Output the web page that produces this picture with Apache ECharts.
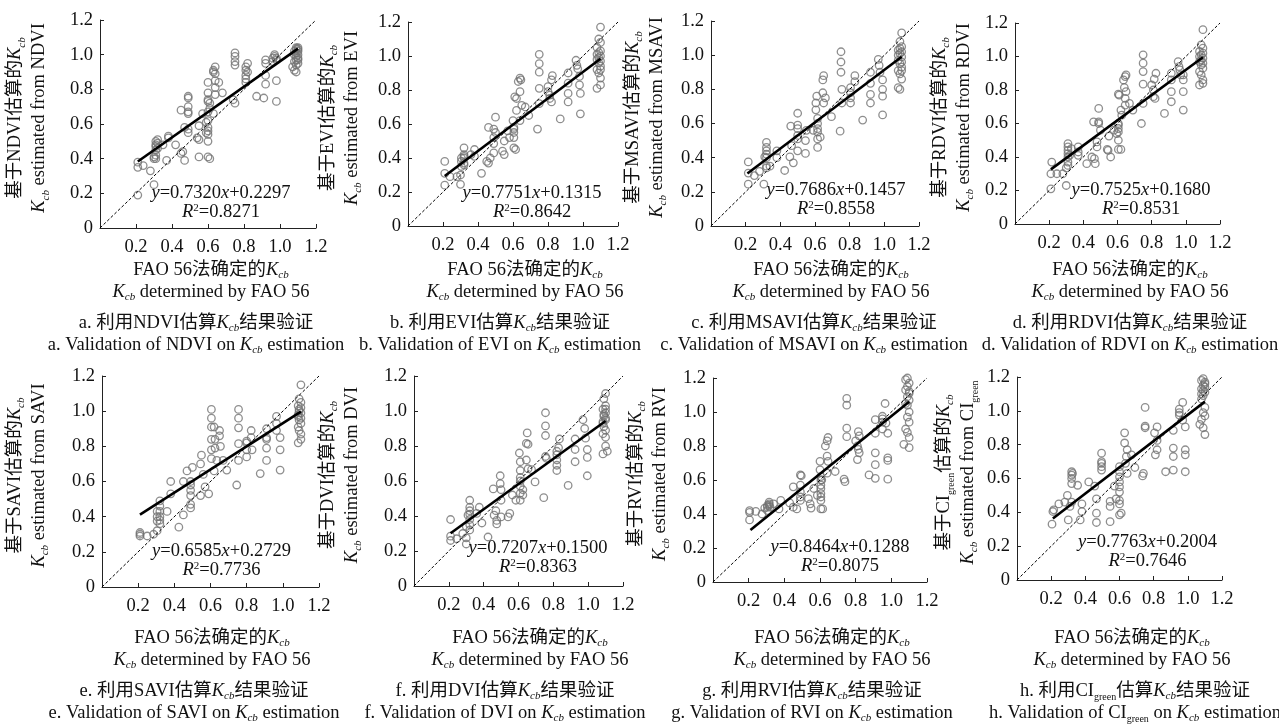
<!DOCTYPE html>
<html><head><meta charset="utf-8">
<script src="https://cdn.jsdelivr.net/npm/echarts@6/dist/echarts.min.js"></script>
<style>html,body{margin:0;padding:0;background:#fff}#c{width:1279px;height:724px}</style>
</head><body><div id="c"></div>
<script>
// ---------------- data ----------------
const PANEL_LETTERS = ['a','b','c','d','e','f','g','h'];
const INDEX_NAMES = ['NDVI','EVI','MSAVI','RDVI','SAVI','DVI','RVI','CIgreen'];
const AXIS_TICKS = [0, 0.2, 0.4, 0.6, 0.8, 1.0, 1.2];
const SLOPES = [0.7320, 0.7751, 0.7686, 0.7525, 0.6585, 0.7207, 0.8464, 0.7763];
const INTERCEPTS = [0.2297, 0.1315, 0.1457, 0.1680, 0.2729, 0.1500, 0.1288, 0.2004];
const R2 = [0.8271, 0.8642, 0.8558, 0.8531, 0.7736, 0.8363, 0.8075, 0.7646];
const FIT_RANGE = [0.21, 1.10];

const ndviPts = [[0.21,0.19],[0.21,0.35],[0.21,0.38],[0.24,0.36],[0.28,0.33],[0.30,0.25],[0.30,0.40],[0.30,0.41],[0.31,0.42],[0.31,0.45],[0.31,0.47],[0.31,0.48],[0.31,0.50],[0.31,0.40],[0.32,0.46],[0.32,0.49],[0.32,0.51],[0.35,0.48],[0.37,0.39],[0.38,0.52],[0.38,0.53],[0.42,0.48],[0.45,0.43],[0.45,0.68],[0.46,0.44],[0.47,0.39],[0.47,0.58],[0.49,0.55],[0.49,0.57],[0.49,0.66],[0.49,0.67],[0.49,0.70],[0.49,0.76],[0.49,0.75],[0.54,0.52],[0.55,0.41],[0.55,0.59],[0.55,0.51],[0.57,0.66],[0.59,0.61],[0.59,0.55],[0.60,0.41],[0.60,0.50],[0.60,0.54],[0.60,0.56],[0.60,0.58],[0.60,0.62],[0.60,0.67],[0.60,0.73],[0.60,0.74],[0.60,0.78],[0.60,0.84],[0.61,0.40],[0.61,0.69],[0.61,0.72],[0.63,0.90],[0.63,0.91],[0.63,0.66],[0.64,0.93],[0.64,0.89],[0.64,0.85],[0.64,0.81],[0.64,0.77],[0.66,0.84],[0.68,0.78],[0.74,0.74],[0.75,0.72],[0.75,0.94],[0.75,0.96],[0.75,0.99],[0.75,1.01],[0.81,0.84],[0.81,0.86],[0.81,0.88],[0.81,0.91],[0.81,0.93],[0.82,0.90],[0.82,0.95],[0.87,0.76],[0.91,0.75],[0.92,0.83],[0.92,0.88],[0.92,0.95],[0.92,0.97],[0.96,0.96],[0.96,0.98],[0.97,0.99],[0.97,1.00],[0.98,0.97],[0.98,0.85],[0.98,0.73],[0.98,0.98],[1.07,0.93],[1.08,0.91],[1.08,0.96],[1.08,1.00],[1.08,1.02],[1.09,0.90],[1.09,0.94],[1.09,0.97],[1.09,0.99],[1.09,1.01],[1.09,1.03],[1.09,1.04],[1.10,0.95],[1.10,0.98],[1.10,1.00],[1.10,1.02],[1.10,1.03],[1.10,1.04],[1.10,0.97]];
const eviPts = [[0.21,0.24],[0.21,0.31],[0.21,0.38],[0.24,0.29],[0.28,0.29],[0.30,0.30],[0.30,0.245],[0.305,0.35],[0.305,0.38],[0.305,0.40],[0.32,0.37],[0.32,0.40],[0.32,0.42],[0.32,0.46],[0.32,0.41],[0.32,0.36],[0.36,0.42],[0.38,0.45],[0.38,0.41],[0.42,0.31],[0.45,0.38],[0.46,0.37],[0.47,0.40],[0.46,0.58],[0.50,0.64],[0.49,0.57],[0.50,0.55],[0.49,0.485],[0.49,0.43],[0.49,0.52],[0.54,0.44],[0.55,0.42],[0.55,0.50],[0.57,0.56],[0.58,0.52],[0.60,0.62],[0.605,0.58],[0.605,0.57],[0.605,0.55],[0.605,0.52],[0.605,0.46],[0.615,0.45],[0.61,0.76],[0.62,0.75],[0.62,0.68],[0.63,0.85],[0.64,0.87],[0.645,0.86],[0.64,0.79],[0.65,0.71],[0.64,0.62],[0.67,0.70],[0.69,0.65],[0.74,0.57],[0.75,1.01],[0.75,0.955],[0.75,0.905],[0.75,0.81],[0.75,0.72],[0.80,0.82],[0.80,0.79],[0.81,0.77],[0.81,0.75],[0.82,0.73],[0.825,0.885],[0.82,0.86],[0.87,0.63],[0.915,0.90],[0.915,0.84],[0.915,0.78],[0.915,0.73],[0.96,0.975],[0.965,0.945],[0.97,0.925],[0.98,0.88],[0.98,0.83],[0.985,0.78],[0.985,0.66],[1.10,1.17],[1.09,1.10],[1.10,1.08],[1.08,1.05],[1.09,1.02],[1.10,1.00],[1.08,0.98],[1.09,0.96],[1.10,0.94],[1.08,0.92],[1.09,0.90],[1.10,0.87],[1.10,0.83],[1.08,0.81],[1.10,1.03],[1.08,1.01],[1.10,0.97],[1.09,0.99],[1.10,0.92]];
const msaviPts = [[0.215,0.375],[0.215,0.31],[0.215,0.245],[0.25,0.295],[0.28,0.32],[0.305,0.245],[0.31,0.405],[0.32,0.49],[0.32,0.46],[0.32,0.44],[0.32,0.42],[0.32,0.40],[0.32,0.35],[0.32,0.34],[0.34,0.35],[0.38,0.40],[0.38,0.44],[0.425,0.325],[0.455,0.405],[0.465,0.47],[0.475,0.37],[0.46,0.585],[0.50,0.66],[0.50,0.59],[0.50,0.57],[0.50,0.53],[0.50,0.51],[0.50,0.44],[0.545,0.50],[0.545,0.425],[0.55,0.56],[0.59,0.56],[0.605,0.68],[0.61,0.76],[0.605,0.72],[0.615,0.63],[0.615,0.60],[0.615,0.57],[0.615,0.55],[0.615,0.51],[0.615,0.46],[0.63,0.52],[0.645,0.855],[0.65,0.88],[0.645,0.78],[0.65,0.72],[0.66,0.75],[0.695,0.64],[0.745,0.555],[0.75,1.02],[0.75,0.96],[0.75,0.90],[0.755,0.80],[0.755,0.72],[0.805,0.81],[0.805,0.78],[0.805,0.75],[0.805,0.72],[0.83,0.88],[0.83,0.845],[0.875,0.62],[0.92,0.90],[0.92,0.835],[0.92,0.77],[0.92,0.72],[0.965,0.975],[0.97,0.94],[0.975,0.90],[0.99,0.855],[0.99,0.80],[0.99,0.76],[0.99,0.65],[1.10,1.13],[1.09,1.08],[1.10,1.05],[1.08,1.03],[1.09,1.01],[1.10,0.99],[1.08,0.97],[1.09,0.95],[1.10,0.93],[1.08,0.91],[1.09,0.89],[1.10,0.86],[1.08,0.81],[1.09,0.80],[1.10,1.02],[1.08,1.00],[1.10,0.96],[1.09,1.04],[1.10,0.91]];
const rdviPts = [[0.215,0.37],[0.21,0.30],[0.21,0.21],[0.245,0.30],[0.28,0.30],[0.30,0.335],[0.30,0.23],[0.31,0.35],[0.31,0.37],[0.31,0.40],[0.31,0.42],[0.31,0.44],[0.31,0.46],[0.31,0.48],[0.32,0.41],[0.33,0.45],[0.37,0.46],[0.37,0.43],[0.37,0.41],[0.42,0.36],[0.45,0.40],[0.465,0.39],[0.47,0.36],[0.46,0.61],[0.49,0.69],[0.49,0.61],[0.49,0.60],[0.48,0.49],[0.48,0.46],[0.50,0.56],[0.55,0.525],[0.54,0.445],[0.545,0.44],[0.56,0.40],[0.58,0.56],[0.595,0.54],[0.605,0.775],[0.61,0.77],[0.605,0.60],[0.605,0.59],[0.605,0.57],[0.605,0.55],[0.605,0.50],[0.605,0.445],[0.62,0.445],[0.62,0.68],[0.625,0.65],[0.635,0.86],[0.645,0.88],[0.65,0.89],[0.64,0.815],[0.65,0.79],[0.645,0.75],[0.645,0.71],[0.67,0.72],[0.69,0.68],[0.74,0.60],[0.75,0.72],[0.75,1.01],[0.75,0.96],[0.75,0.91],[0.75,0.835],[0.80,0.83],[0.81,0.80],[0.81,0.76],[0.82,0.75],[0.825,0.90],[0.815,0.865],[0.875,0.66],[0.915,0.90],[0.915,0.86],[0.915,0.79],[0.915,0.73],[0.955,0.97],[0.96,0.94],[0.965,0.92],[0.97,0.89],[0.985,0.89],[0.985,0.86],[0.985,0.79],[0.985,0.68],[1.10,1.16],[1.09,1.07],[1.10,1.05],[1.08,1.03],[1.09,1.01],[1.10,0.99],[1.08,0.97],[1.09,0.95],[1.10,0.93],[1.08,0.91],[1.09,0.89],[1.10,0.86],[1.08,0.83],[1.10,0.84],[1.10,1.02],[1.08,1.00],[1.09,0.98],[1.10,0.96]];
const saviPts = [[0.21,0.31],[0.21,0.30],[0.21,0.29],[0.25,0.29],[0.285,0.30],[0.305,0.32],[0.305,0.43],[0.305,0.40],[0.305,0.375],[0.32,0.49],[0.32,0.46],[0.32,0.43],[0.32,0.40],[0.32,0.38],[0.32,0.36],[0.36,0.43],[0.38,0.60],[0.38,0.53],[0.425,0.34],[0.45,0.41],[0.45,0.60],[0.47,0.66],[0.50,0.68],[0.49,0.60],[0.49,0.58],[0.49,0.55],[0.49,0.52],[0.49,0.47],[0.49,0.45],[0.545,0.52],[0.55,0.75],[0.545,0.70],[0.57,0.57],[0.59,0.53],[0.56,0.64],[0.605,1.01],[0.605,0.96],[0.605,0.91],[0.605,0.84],[0.605,0.78],[0.605,0.73],[0.62,0.91],[0.625,0.84],[0.625,0.79],[0.62,0.66],[0.635,0.72],[0.65,0.89],[0.65,0.86],[0.655,0.80],[0.69,0.665],[0.67,0.72],[0.745,0.58],[0.755,1.01],[0.755,0.96],[0.755,0.905],[0.755,0.815],[0.755,0.72],[0.80,0.83],[0.80,0.82],[0.80,0.78],[0.80,0.74],[0.825,0.89],[0.825,0.85],[0.83,0.78],[0.875,0.645],[0.91,0.90],[0.91,0.85],[0.91,0.84],[0.91,0.79],[0.91,0.72],[0.965,0.97],[0.965,0.93],[0.965,0.89],[0.985,0.85],[0.985,0.78],[0.985,0.665],[1.10,1.15],[1.09,1.07],[1.10,1.05],[1.085,1.03],[1.09,1.01],[1.10,0.99],[1.085,0.97],[1.09,0.95],[1.10,0.93],[1.085,0.91],[1.09,0.89],[1.10,0.87],[1.10,0.84],[1.085,0.82],[1.10,1.02],[1.09,1.00],[1.10,0.96],[1.085,0.98]];
const dviPts = [[0.21,0.38],[0.21,0.285],[0.21,0.26],[0.245,0.27],[0.28,0.30],[0.30,0.275],[0.30,0.24],[0.30,0.34],[0.31,0.405],[0.32,0.49],[0.32,0.45],[0.32,0.43],[0.32,0.41],[0.32,0.38],[0.32,0.35],[0.32,0.32],[0.375,0.45],[0.39,0.36],[0.36,0.415],[0.425,0.28],[0.455,0.555],[0.46,0.405],[0.47,0.43],[0.475,0.375],[0.475,0.355],[0.495,0.63],[0.495,0.585],[0.50,0.55],[0.50,0.49],[0.50,0.395],[0.54,0.395],[0.55,0.415],[0.565,0.52],[0.585,0.49],[0.605,0.76],[0.61,0.71],[0.61,0.66],[0.61,0.62],[0.61,0.60],[0.61,0.57],[0.61,0.53],[0.61,0.49],[0.625,0.55],[0.625,0.52],[0.645,0.815],[0.65,0.875],[0.655,0.81],[0.645,0.72],[0.655,0.67],[0.675,0.665],[0.695,0.595],[0.745,0.505],[0.755,0.99],[0.755,0.915],[0.755,0.86],[0.755,0.74],[0.76,0.73],[0.82,0.77],[0.82,0.75],[0.82,0.72],[0.82,0.69],[0.82,0.66],[0.835,0.84],[0.83,0.79],[0.885,0.575],[0.925,0.84],[0.925,0.78],[0.925,0.71],[0.97,0.95],[0.98,0.90],[0.985,0.845],[0.995,0.78],[0.995,0.735],[0.995,0.63],[1.10,1.10],[1.09,1.07],[1.10,1.03],[1.085,1.01],[1.10,0.99],[1.09,0.97],[1.10,0.95],[1.085,0.93],[1.09,0.91],[1.10,0.89],[1.085,0.87],[1.10,0.85],[1.10,0.80],[1.11,0.77],[1.085,0.755],[1.10,1.01],[1.09,0.98],[1.10,0.96],[1.085,0.94]];
const rviPts = [[0.205,0.42],[0.205,0.41],[0.205,0.365],[0.24,0.415],[0.275,0.40],[0.29,0.435],[0.305,0.45],[0.305,0.44],[0.305,0.42],[0.315,0.47],[0.315,0.46],[0.315,0.45],[0.32,0.44],[0.34,0.46],[0.38,0.48],[0.37,0.43],[0.43,0.465],[0.45,0.44],[0.47,0.43],[0.45,0.56],[0.49,0.63],[0.495,0.625],[0.49,0.57],[0.49,0.53],[0.49,0.50],[0.49,0.48],[0.535,0.49],[0.545,0.46],[0.55,0.435],[0.565,0.55],[0.585,0.51],[0.60,0.71],[0.60,0.66],[0.605,0.62],[0.605,0.60],[0.605,0.57],[0.605,0.55],[0.605,0.52],[0.605,0.50],[0.605,0.48],[0.605,0.43],[0.615,0.43],[0.61,0.60],[0.63,0.80],[0.64,0.83],[0.645,0.85],[0.64,0.74],[0.645,0.71],[0.64,0.64],[0.685,0.65],[0.735,0.605],[0.74,0.59],[0.75,1.08],[0.75,1.04],[0.75,0.905],[0.75,0.855],[0.80,0.83],[0.81,0.72],[0.81,0.80],[0.815,0.78],[0.82,0.76],[0.815,0.885],[0.82,0.86],[0.875,0.63],[0.91,0.955],[0.91,0.875],[0.91,0.76],[0.91,0.69],[0.91,0.61],[0.95,0.975],[0.95,0.96],[0.95,0.94],[0.95,0.90],[0.965,1.05],[0.97,0.935],[0.98,0.875],[0.98,0.73],[0.98,0.715],[0.98,0.605],[1.09,1.20],[1.08,1.19],[1.10,1.17],[1.09,1.15],[1.08,1.13],[1.10,1.11],[1.09,1.09],[1.10,1.07],[1.08,1.05],[1.10,1.00],[1.09,0.97],[1.10,0.94],[1.08,0.90],[1.09,0.88],[1.10,0.85],[1.07,0.81],[1.10,0.79],[1.10,1.12],[1.09,1.04]];
const cigPts = [[0.205,0.33],[0.21,0.405],[0.215,0.415],[0.245,0.45],[0.28,0.46],[0.295,0.50],[0.30,0.355],[0.31,0.435],[0.32,0.64],[0.32,0.62],[0.32,0.60],[0.32,0.57],[0.32,0.46],[0.325,0.63],[0.355,0.56],[0.37,0.355],[0.38,0.405],[0.38,0.45],[0.42,0.58],[0.455,0.555],[0.465,0.34],[0.465,0.395],[0.465,0.48],[0.495,0.75],[0.495,0.70],[0.495,0.69],[0.495,0.67],[0.495,0.65],[0.545,0.345],[0.545,0.435],[0.545,0.465],[0.57,0.555],[0.58,0.48],[0.60,0.67],[0.60,0.64],[0.60,0.61],[0.60,0.58],[0.60,0.55],[0.60,0.52],[0.60,0.47],[0.60,0.45],[0.60,0.385],[0.61,0.395],[0.63,0.87],[0.63,0.81],[0.645,0.77],[0.64,0.73],[0.645,0.63],[0.635,0.69],[0.67,0.74],[0.69,0.665],[0.735,0.615],[0.74,0.63],[0.75,1.02],[0.75,0.90],[0.75,0.91],[0.805,0.87],[0.82,0.825],[0.82,0.77],[0.81,0.74],[0.82,0.905],[0.87,0.64],[0.915,0.885],[0.915,0.78],[0.915,0.73],[0.915,0.65],[0.95,1.01],[0.95,0.99],[0.95,0.975],[0.97,1.05],[0.97,0.945],[0.985,0.905],[0.985,0.77],[0.985,0.74],[0.985,0.64],[1.09,1.19],[1.08,1.18],[1.10,1.17],[1.09,1.15],[1.08,1.13],[1.10,1.11],[1.09,1.09],[1.08,1.07],[1.10,1.02],[1.09,0.99],[1.10,0.97],[1.08,0.95],[1.07,0.92],[1.09,0.90],[1.10,0.86],[1.10,1.16],[1.09,1.12],[1.08,1.10],[1.10,1.14]];
const PANEL_POINTS = [ndviPts, eviPts, msaviPts, rdviPts, saviPts, dviPts, rviPts, cigPts];

// ---------------- layout ----------------
const GRIDS = [[100,20,216,208],[408,22,210,204],[711,21,208,205],[1015,23,205,201],
               [102,376,217,211],[414,376,209,210],[713,378,214,204],[1017,377,205,203]];
const EQ_POS = [[0.672,0.147],[0.709,0.135],[0.721,0.152],[0.738,0.146],[0.661,0.151],[0.712,0.163],[0.712,0.15],[0.764,0.166]];
const YTITLE_X = [27.5, 340, 645, 952, 27, 340, 648, 956];
const XTITLE_CX = [211, 525, 831, 1130, 212, 530, 832, 1132];
const CAPTION_CX = [196, 500, 814, 1130, 194, 505, 812, 1135];

const SERIF = "'Liberation Serif','Times New Roman','Noto Sans CJK SC',serif";
const TXT = '#111';
const AX = '#222';
function richFor(fs){
  const F = {fontFamily: SERIF, fill: TXT, color: TXT};
  const s = Math.round(fs * 0.61);
  return {
    i:   {...F, fontSize: fs, fontStyle: 'italic'},
    sub: {...F, fontSize: s, fontStyle: 'italic', verticalAlign: 'bottom', lineHeight: 8},
    sup: {...F, fontSize: s, verticalAlign: 'top', lineHeight: 12},
    g:   {...F, fontSize: s - 1, verticalAlign: 'bottom', lineHeight: 6}
  };
}
const KCB = '{i|K}{sub|cb}';
function idxTxt(name){ return name === 'CIgreen' ? 'CI{g|green}' : name; }

function txt(x, y, text, lh, rot, fs){
  fs = fs || 18;
  return {type:'text', x, y, rotation: rot || 0, silent: true, z: 100,
    style: {text, fontSize: fs, fontFamily: SERIF, fill: TXT, align: 'center', verticalAlign: 'middle',
            lineHeight: lh || 22, rich: richFor(fs)}};
}

const graphic = [];
const series = [];
GRIDS.forEach((g, i) => {
  const top = i < 4;
  const nm = idxTxt(INDEX_NAMES[i]);
  const L = PANEL_LETTERS[i];
  graphic.push(txt(YTITLE_X[i], g[1] + g[3]/2 - 6,
    '基于' + nm + '估算的' + KCB + '\n' + KCB + ' estimated from ' + nm, 24, Math.PI/2, 18.5));
  graphic.push(txt(XTITLE_CX[i], top ? 281 : 649,
    'FAO 56法确定的' + KCB + '\n' + KCB + ' determined by FAO 56', 22, 0, 18.5));
  graphic.push(txt(CAPTION_CX[i], top ? 323 : 691, L + '. 利用' + nm + '估算' + KCB + '结果验证', 22, 0, 18.5));
  graphic.push(txt(CAPTION_CX[i], top ? 345 : 713, L + '. Validation of ' + nm + ' on ' + KCB + ' estimation', 22, 0, 18.5));

  series.push({type:'scatter', xAxisIndex:i, yAxisIndex:i, data: PANEL_POINTS[i], symbol:'circle', symbolSize: 7.5,
    itemStyle:{color:'rgba(255,255,255,0)', borderColor:'#727272', borderWidth:1.3}, z: 2, silent: true});
  series.push({type:'line', xAxisIndex:i, yAxisIndex:i, data: [[AXIS_TICKS[0],AXIS_TICKS[0]],[AXIS_TICKS[6],AXIS_TICKS[6]]],
    symbol:'none', lineStyle:{color:'#000', width:1, type:[3,2]}, z: 3, silent: true});
  series.push({type:'line', xAxisIndex:i, yAxisIndex:i,
    data: FIT_RANGE.map(x => [x, SLOPES[i]*x + INTERCEPTS[i]]),
    symbol:'none', lineStyle:{color:'#000', width:2.6}, z: 4, silent: true});
});

const axisCommon = {type:'value', min: AXIS_TICKS[0], max: AXIS_TICKS[6], interval: 0.2,
  splitLine:{show:false},
  axisLine:{show:true, onZero:false, lineStyle:{color:AX, width:1}},
  axisTick:{show:true, inside:true, length:4, lineStyle:{color:AX, width:1}}};

const option = {
  animation: false,
  backgroundColor: '#fff',
  grid: GRIDS.map(g => ({left:g[0], top:g[1], width:g[2], height:g[3], containLabel:false})),
  xAxis: GRIDS.map((g,i) => ({...axisCommon, gridIndex:i,
    axisLabel:{margin:10, fontSize:18.5, fontFamily:SERIF, color:TXT, formatter: v => v === 0 ? '' : v.toFixed(1)}})),
  yAxis: GRIDS.map((g,i) => ({...axisCommon, gridIndex:i,
    axisLabel:{margin:7, fontSize:18.5, fontFamily:SERIF, color:TXT, formatter: v => v === 0 ? '0' : v.toFixed(1)}})),
  series,
  graphic
};
const chart = echarts.init(document.getElementById('c'), null, {renderer:'canvas'});
chart.setOption(option);

// regression equations anchored at data coordinates
const eqTexts = EQ_POS.map((p, i) => {
  const px = chart.convertToPixel({xAxisIndex: i, yAxisIndex: i}, p);
  return txt(px[0], px[1], '{i|y}=' + SLOPES[i].toFixed(4) + '{i|x}+' + INTERCEPTS[i].toFixed(4) +
    '\n{i|R}{sup|2}=' + R2[i].toFixed(4), 19, 0, 18.5);
});
chart.setOption({graphic: graphic.concat(eqTexts)});
</script></body></html>
